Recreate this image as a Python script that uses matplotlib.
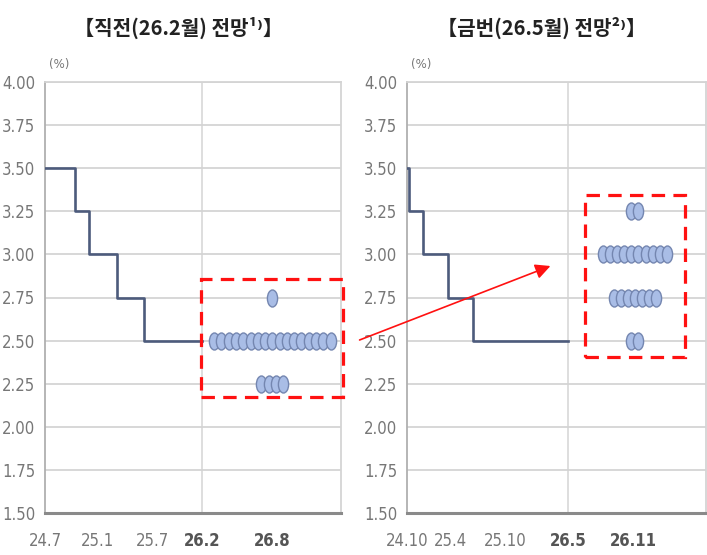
import numpy as np
import matplotlib
matplotlib.use("Agg")
import matplotlib.pyplot as plt
from matplotlib import font_manager as fm
from matplotlib.path import Path
from matplotlib.transforms import Affine2D
from matplotlib.patches import Rectangle, FancyArrowPatch

# 데이터 (months since start of each panel)
titles = ["【직전(26.2월) 전망¹⁾】", "【금번(26.5월) 전망²⁾】"]

left_step_x = [0, 3.6, 5.3, 8.7, 12.0, 19.0]
left_step_y = [3.50, 3.25, 3.00, 2.75, 2.50, 2.50]
left_ticks = [0, 6.3, 13.0, 19.0, 27.5]
left_ticklabels = ["24.7", "25.1", "25.7", "26.2", "26.8"]
left_levels = [2.75, 2.50, 2.25]
left_counts = [1, 17, 4]

right_step_x = [0, 0.2, 1.9, 4.8, 7.8, 19.0]
right_step_y = [3.50, 3.25, 3.00, 2.75, 2.50, 2.50]
right_ticks = [0, 5.1, 11.6, 19.0, 26.7]
right_ticklabels = ["24.10", "25.4", "25.10", "26.5", "26.11"]
right_levels = [3.25, 3.00, 2.75, 2.50]
right_counts = [2, 10, 7, 2]

yticks = [1.50, 1.75, 2.00, 2.25, 2.50, 2.75, 3.00, 3.25, 3.50, 3.75, 4.00]

# narrow font for numbers if one exists
num_fp = None
num_fp_b = None
for f in fm.fontManager.ttflist:
    fn = f.fname.lower()
    if ("condensed" in fn or "narrow" in fn) and "sans" in fn and "mono" not in fn \
            and "oblique" not in fn and "italic" not in fn:
        if "bold" in fn:
            num_fp_b = num_fp_b or f.fname
        else:
            num_fp = num_fp or f.fname
narrow = num_fp is not None
tick_size = 12 if narrow else 11

cjk = ["Noto Sans CJK KR", "DejaVu Sans"]

W, H = 707, 555
fig = plt.figure(figsize=(W / 100, H / 100), dpi=100)

def px(x, y):
    return x / W, 1 - y / H

oval = Path.unit_circle().transformed(Affine2D().scale(0.6, 1.0))

def set_num_font(lab, bold=False):
    if narrow:
        fname = num_fp_b if (bold and num_fp_b) else num_fp
        lab.set_fontproperties(fm.FontProperties(fname=fname, size=tick_size))
    else:
        lab.set_fontfamily("Liberation Sans")
        lab.set_fontsize(tick_size)
        if bold:
            lab.set_fontweight("bold")

def panel(rect, title, sx, sy, ticks, labels, levels, counts, center, pitch, xmax, boundary):
    ax = fig.add_axes(rect)
    ax.set_xlim(0, xmax)
    ax.set_ylim(1.5, 4.0)
    ax.set_yticks(yticks)
    ax.set_yticklabels(["%.2f" % v for v in yticks])
    ax.grid(axis="y", color="#d4d4d4", lw=1.3)
    ax.axvline(boundary, color="#d4d4d4", lw=1.1)
    ax.set_axisbelow(True)
    ax.step(sx, sy, where="post", color="#4d5b7c", lw=1.9, zorder=3)
    for lev, n in zip(levels, counts):
        xs = center + (np.arange(n) - (n - 1) / 2) * pitch
        ax.scatter(xs, [lev] * n, marker=oval, s=150, facecolor="#a9bde6",
                   edgecolor="#7486b0", lw=1.0, zorder=4)
    ax.set_xticks(ticks)
    ax.set_xticklabels(labels)
    ax.tick_params(length=0, labelcolor="#777777")
    ax.tick_params(axis="x", pad=14)
    ax.tick_params(axis="y", pad=7)
    for lab in ax.get_yticklabels():
        set_num_font(lab)
    for i, lab in enumerate(ax.get_xticklabels()):
        set_num_font(lab, bold=i >= 3)
        if i >= 3:
            lab.set_color("#555555")
    for s in ["top", "right"]:
        ax.spines[s].set_color("#d4d4d4")
        ax.spines[s].set_linewidth(1.3)
    ax.spines["left"].set_color("#b0b0b0")
    ax.spines["left"].set_linewidth(1.3)
    ax.spines["bottom"].set_color("#8a8a8a")
    ax.spines["bottom"].set_linewidth(2.2)
    ax.text(0.015, 1.025, "(%)", transform=ax.transAxes, fontsize=8.5,
            color="#777777", va="bottom")
    ax.text(0.45, 1.1, title, transform=ax.transAxes, fontsize=14.5,
            fontweight="bold", family=cjk, ha="center", va="bottom", color="#222222")
    return ax

x0, y0 = px(45, 513)
x1, y1 = px(341, 82)
panel([x0, y0, x1 - x0, y1 - y0], titles[0], left_step_x, left_step_y,
      left_ticks, left_ticklabels, left_levels, left_counts, 27.5, 0.88, 35.8, 19.0)

x0, y0 = px(407, 513)
x1, y1 = px(706, 82)
panel([x0, y0, x1 - x0, y1 - y0], titles[1], right_step_x, right_step_y,
      right_ticks, right_ticklabels, right_levels, right_counts, 26.9, 0.84, 35.3, 19.0)

# 빨간 점선 박스
for (bx0, by0, bx1, by1) in [(201, 279, 343, 397), (585, 195, 685, 357)]:
    a, b = px(bx0, by1)
    c, d = px(bx1, by0)
    fig.add_artist(Rectangle((a, b), c - a, d - b, transform=fig.transFigure,
                             fill=False, edgecolor="#ff1111", lw=2.3,
                             linestyle=(0, (4.2, 2.6)), zorder=10))

fig.add_artist(FancyArrowPatch(px(357, 341), px(553, 265), transform=fig.transFigure,
                               arrowstyle="-|>,head_length=9,head_width=4.5",
                               color="#ff1111", lw=1.2, zorder=10))

fig.savefig("out.png", dpi=100)
